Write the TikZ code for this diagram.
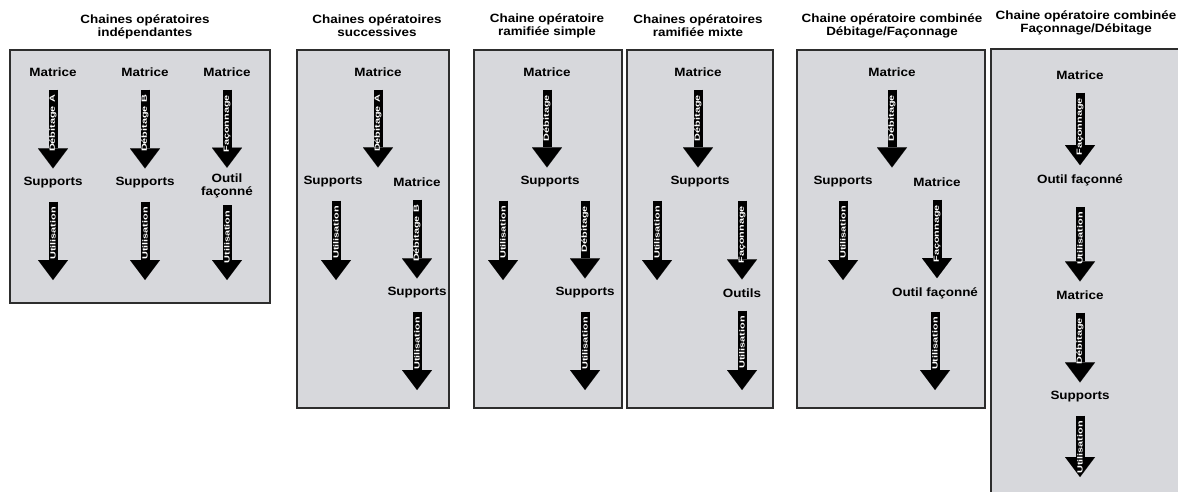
\documentclass[tikz,border=0pt]{standalone}
\usepackage{fontspec}
\setmainfont{Liberation Sans}[FakeStretch=1.12]
\newfontfamily\shaftfont{Liberation Sans}[FakeStretch=1.45]
\usetikzlibrary{arrows.meta}
\definecolor{boxgray}{RGB}{215,216,220}
\definecolor{boxline}{RGB}{45,45,45}
\begin{document}
\begin{tikzpicture}[x=1pt, y=-1pt,
        bloc/.style={draw=boxline, line width=1.3pt, fill=boxgray},
        titre/.style={font=\bfseries\fontsize{12}{13}\selectfont, align=center},
        etat/.style={font=\bfseries\fontsize{12}{13}\selectfont, inner sep=1pt, align=center},
        fleche/.style={line width=9pt, -{Triangle[width=30pt, length=20pt, line width=0.01pt]},
            shorten <=12pt, shorten >=8pt},
        operation/.style={pos=0, anchor=east, rotate=90, text=white, inner xsep=13pt, inner ysep=0pt,
            font=\shaftfont\bfseries\fontsize{7.5}{8}\selectfont}]
    \clip (0,0) rectangle (1178,492);

    \path[bloc] (10,50) rectangle (270,303);
    \path[bloc] (297,50) rectangle (449,408);
    \path[bloc] (474,50) rectangle (622,408);
    \path[bloc] (627,50) rectangle (773,408);
    \path[bloc] (797,50) rectangle (985,408);
    \path[bloc] (991,49) rectangle (1200,520);

    \node[titre] (t1) at (145,26.5) {Chaines opératoires\\indépendantes};
    \node[titre] (t2) at (377,26) {Chaines opératoires\\successives};
    \node[titre] (t3) at (547,26) {Chaine opératoire\\ramifiée simple};
    \node[titre] (t4) at (698,26) {Chaines opératoires\\ramifiée mixte};
    \node[titre] (t5) at (892,26) {Chaine opératoire combinée\\Débitage/Façonnage};
    \node[titre] (t6) at (1086,23) {Chaine opératoire combinée\\Façonnage/Débitage};

    \node[etat] (m11) at (53,72) {Matrice};
    \node[etat] (m12) at (145,72) {Matrice};
    \node[etat] (m13) at (227,72) {Matrice};
    \node[etat] (s11) at (53,183) {Supports};
    \node[etat] (s12) at (145,183) {Supports};
    \node[etat] (o13) at (227,186) {Outil\\façonné};
    \coordinate (u11) at (53,280);
    \coordinate (u12) at (145,280);
    \coordinate (u13) at (227,280);

    \node[etat] (m21) at (378,72) {Matrice};
    \node[etat] (s21) at (333,182) {Supports};
    \node[etat] (m22) at (417,182) {Matrice};
    \node[etat] (s22) at (417,293) {Supports};
    \coordinate (u21) at (336,280);
    \coordinate (u22) at (417,390);

    \node[etat] (m31) at (547,72) {Matrice};
    \node[etat] (s31) at (550,182) {Supports};
    \node[etat] (s32) at (585,293) {Supports};
    \coordinate (u31) at (503,280);
    \coordinate (u32) at (585,390);

    \node[etat] (m41) at (698,72) {Matrice};
    \node[etat] (s41) at (700,182) {Supports};
    \node[etat] (o41) at (742,293) {Outils};
    \coordinate (u41) at (657,280);
    \coordinate (u42) at (742,390);

    \node[etat] (m51) at (892,72) {Matrice};
    \node[etat] (s51) at (843,182) {Supports};
    \node[etat] (m52) at (937,182) {Matrice};
    \node[etat] (o51) at (935,293) {Outil façonné};
    \coordinate (u51) at (847,280);
    \coordinate (u52) at (935,390);

    \node[etat] (m61) at (1080,75) {Matrice};
    \node[etat] (o61) at (1080,180) {Outil façonné};
    \node[etat] (m62) at (1080,295) {Matrice};
    \node[etat] (s61) at (1080,397) {Supports};
    \coordinate (u61) at (1080,477);

    \draw[fleche] (m11) -- (s11) node[operation] {Débitage A};
    \draw[fleche] (m12) -- (s12) node[operation] {Débitage B};
    \draw[fleche, shorten >=5pt] (m13) -- (o13) node[operation] {Façonnage};
    \draw[fleche, shorten >=0pt] (s11) -- (u11) node[operation] {Utilisation};
    \draw[fleche, shorten >=0pt] (s12) -- (u12) node[operation] {Utilisation};
    \draw[fleche, shorten >=0pt, shorten <=6pt] (o13) -- (u13) node[operation, inner xsep=7pt] {Utilisation};

    \draw[fleche] (m21) -- (m21 |- s21.north) node[operation] {Débitage A};
    \draw[fleche, shorten >=0pt] (s21.south -| u21) -- (u21) node[operation] {Utilisation};
    \draw[fleche] (m22) -- (s22) node[operation] {Débitage B};
    \draw[fleche, shorten >=0pt] (s22) -- (u22) node[operation] {Utilisation};

    \draw[fleche] (m31) -- (m31 |- s31.north) node[operation] {Débitage};
    \draw[fleche, shorten >=0pt] (s31.south -| u31) -- (u31) node[operation] {Utilisation};
    \draw[fleche] (s31.south -| s32) -- (s32) node[operation] {Débitage};
    \draw[fleche, shorten >=0pt] (s32) -- (u32) node[operation] {Utilisation};

    \draw[fleche] (m41) -- (m41 |- s41.north) node[operation] {Débitage};
    \draw[fleche, shorten >=0pt] (s41.south -| u41) -- (u41) node[operation] {Utilisation};
    \draw[fleche] (s41.south -| o41) -- (o41) node[operation] {Façonnage};
    \draw[fleche, shorten >=0pt] (o41) -- (u42) node[operation] {Utilisation};

    \draw[fleche] (m51) -- (m51 |- s51.north) node[operation] {Débitage};
    \draw[fleche, shorten >=0pt] (s51) -- (s51 |- u51) node[operation] {Utilisation};
    \draw[fleche] (m52) -- (m52 |- o51.north) node[operation] {Façonnage};
    \draw[fleche, shorten >=0pt] (o51) -- (u52) node[operation] {Utilisation};

    \draw[fleche] (m61) -- (o61) node[operation] {Façonnage};
    \draw[fleche, shorten <=20pt] (o61) -- (m62) node[operation, inner xsep=21pt] {Utilisation};
    \draw[fleche] (m62) -- (s61) node[operation] {Débitage};
    \draw[fleche, shorten >=0pt] (s61) -- (u61) node[operation] {Utilisation};
\end{tikzpicture}
\end{document}
